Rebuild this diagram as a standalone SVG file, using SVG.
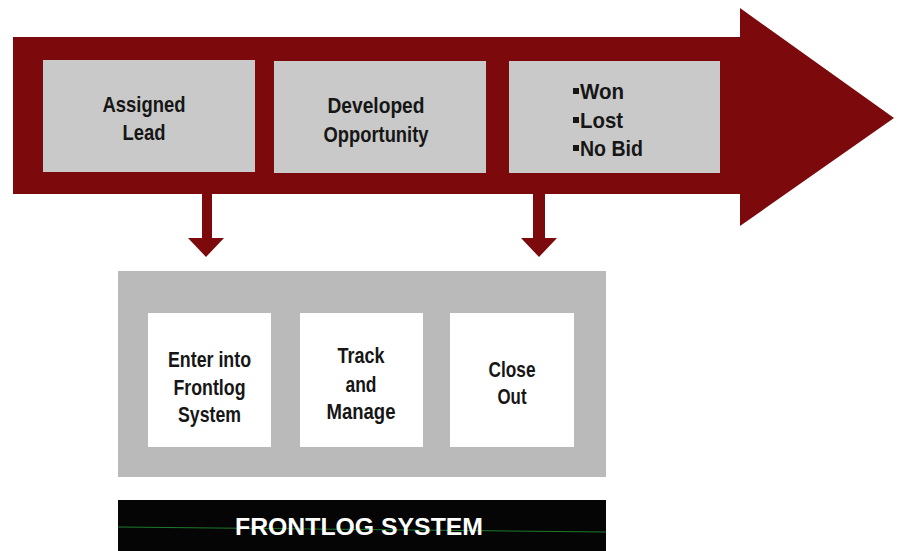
<svg xmlns="http://www.w3.org/2000/svg" width="900" height="551" viewBox="0 0 900 551">
  <style>
    .lbl { font-family: "Liberation Sans", Arial, sans-serif; font-weight: bold; font-size: 22px; fill: #161616; text-anchor: middle; }
    .lst { font-family: "Liberation Sans", Arial, sans-serif; font-weight: bold; font-size: 22px; fill: #161616; }
    .stage { fill: #c9c9c9; }
    .step { fill: #ffffff; }
    .flow { fill: #7c0a0d; }
    .bullet { fill: #161616; }
    .title { font-family: "Liberation Sans", Arial, sans-serif; font-weight: bold; font-size: 24px; fill: #ffffff; text-anchor: middle; }
  </style>

  <!-- main process arrow -->
  <path id="process-arrow" class="flow" d="M13,37 H740 V8 L894,118 L740,226 V194 H13 Z"/>

  <g id="stage-assigned-lead">
    <rect class="stage" x="43" y="60" width="212" height="112"/>
    <text class="lbl" x="144" y="112" textLength="83" lengthAdjust="spacingAndGlyphs">Assigned</text>
    <text class="lbl" x="144" y="140" textLength="43" lengthAdjust="spacingAndGlyphs">Lead</text>
  </g>

  <g id="stage-developed-opportunity">
    <rect class="stage" x="274" y="61" width="212" height="112"/>
    <text class="lbl" x="376" y="113" textLength="97" lengthAdjust="spacingAndGlyphs">Developed</text>
    <text class="lbl" x="376" y="142" textLength="105" lengthAdjust="spacingAndGlyphs">Opportunity</text>
  </g>

  <g id="stage-outcome">
    <rect class="stage" x="509" y="61" width="211" height="112"/>
    <rect class="bullet" x="573" y="88" width="6" height="6"/>
    <rect class="bullet" x="573" y="117" width="6" height="6"/>
    <rect class="bullet" x="573" y="145" width="6" height="6"/>
    <text class="lst" x="580" y="99" textLength="44" lengthAdjust="spacingAndGlyphs">Won</text>
    <text class="lst" x="580" y="128" textLength="43" lengthAdjust="spacingAndGlyphs">Lost</text>
    <text class="lst" x="580" y="156" textLength="63" lengthAdjust="spacingAndGlyphs">No Bid</text>
  </g>

  <!-- connectors from the process arrow into the system -->
  <g id="connectors" class="flow">
    <path d="M202,194 H212 V238 H224 L206,257 L188,238 H202 Z"/>
    <path d="M533,194 H545 V238 H557 L539,257 L521,238 H533 Z"/>
  </g>

  <!-- frontlog system panel -->
  <rect id="system-panel" x="118" y="271" width="488" height="206" fill="#bababa"/>

  <g id="step-enter">
    <rect class="step" x="148" y="313" width="123" height="134"/>
    <text class="lbl" x="209.5" y="367" textLength="83" lengthAdjust="spacingAndGlyphs">Enter into</text>
    <text class="lbl" x="209.5" y="395" textLength="72" lengthAdjust="spacingAndGlyphs">Frontlog</text>
    <text class="lbl" x="209.5" y="422" textLength="63" lengthAdjust="spacingAndGlyphs">System</text>
  </g>

  <g id="step-track">
    <rect class="step" x="300" y="313" width="123" height="134"/>
    <text class="lbl" x="361" y="363" textLength="47" lengthAdjust="spacingAndGlyphs">Track</text>
    <text class="lbl" x="361" y="392" textLength="31" lengthAdjust="spacingAndGlyphs">and</text>
    <text class="lbl" x="361" y="419" textLength="69" lengthAdjust="spacingAndGlyphs">Manage</text>
  </g>

  <g id="step-close">
    <rect class="step" x="450" y="313" width="124" height="134"/>
    <text class="lbl" x="512" y="377" textLength="47" lengthAdjust="spacingAndGlyphs">Close</text>
    <text class="lbl" x="512" y="404" textLength="29" lengthAdjust="spacingAndGlyphs">Out</text>
  </g>

  <g id="system-bar">
    <rect x="118" y="500" width="488" height="51" fill="#050505"/>
    <line x1="118" y1="527" x2="606" y2="532" stroke="#1f7a2a" stroke-width="1"/>
    <text class="title" x="359" y="535" textLength="248" lengthAdjust="spacingAndGlyphs">FRONTLOG SYSTEM</text>
  </g>
</svg>
